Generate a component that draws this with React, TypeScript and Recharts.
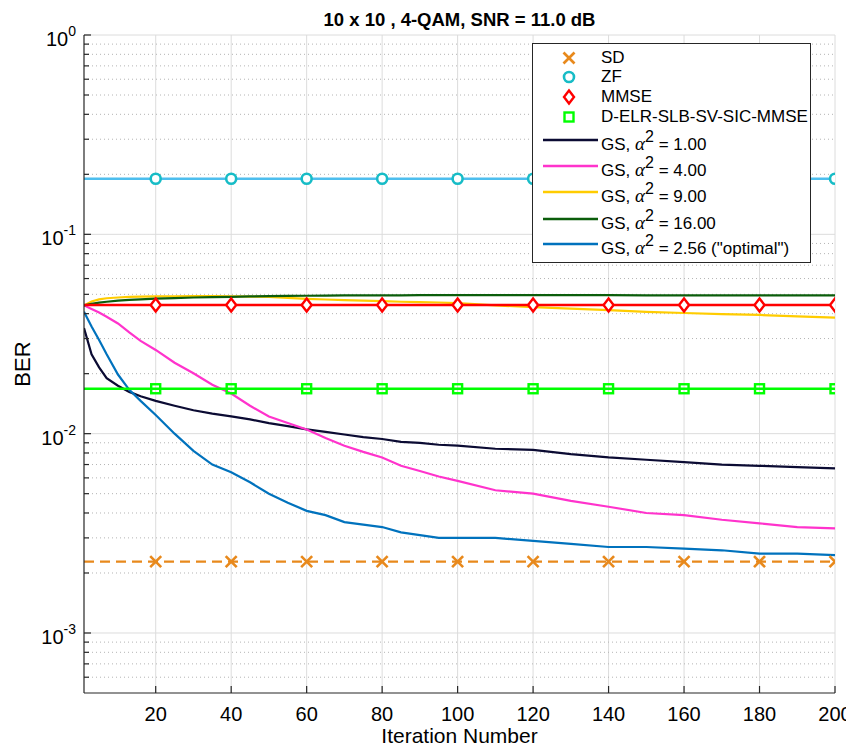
import React from 'react';
import { LineChart, Line, XAxis, YAxis, CartesianGrid, Legend } from 'recharts';

// Iteration grid shared by every series
const iterations = [
  1, 3, 5, 7, 10, 13, 16, 20, 25, 30, 35, 40, 45, 50, 55, 60, 65, 70, 75, 80,
  85, 90, 95, 100, 110, 120, 130, 140, 150, 160, 170, 180, 190, 200,
];

// Gibbs-sampling detector BER per iteration, one array per alpha^2
const gsAlpha1 = [
  0.0339, 0.025, 0.0215, 0.019, 0.0174, 0.0162, 0.0154, 0.0146, 0.0138, 0.0131,
  0.0126, 0.0122, 0.0118, 0.0113, 0.0109, 0.0105, 0.0102, 0.0099, 0.0096, 0.0094,
  0.0091, 0.009, 0.0088, 0.0087, 0.0084, 0.0083, 0.0079, 0.0076, 0.0074, 0.0072,
  0.007, 0.0069, 0.0068, 0.0067,
];
const gsAlpha4 = [
  0.044, 0.0422, 0.0405, 0.0386, 0.0357, 0.0322, 0.0292, 0.0263, 0.0227, 0.0201,
  0.0176, 0.0159, 0.0138, 0.0122, 0.0113, 0.0105, 0.0095, 0.0087, 0.0081, 0.0076,
  0.0069, 0.0065, 0.0061, 0.0058, 0.0052, 0.005, 0.0046, 0.0043, 0.004, 0.0039,
  0.0037, 0.00355, 0.0034, 0.00335,
];
const gsAlpha9 = [
  0.044, 0.046, 0.0472, 0.0478, 0.0482, 0.0485, 0.0487, 0.0488, 0.0489, 0.049,
  0.049, 0.0489, 0.0487, 0.0485, 0.048, 0.0475, 0.0471, 0.0468, 0.0465, 0.0462,
  0.0459, 0.0457, 0.0455, 0.0452, 0.044, 0.0431, 0.0424, 0.0417, 0.0408, 0.0403,
  0.0398, 0.0394, 0.0388, 0.0382,
];
const gsAlpha16 = [
  0.044, 0.0448, 0.0454, 0.0459, 0.0465, 0.0469, 0.0472, 0.0476, 0.0479, 0.0482,
  0.0484, 0.0486, 0.0488, 0.049, 0.0491, 0.0492, 0.0493, 0.0494, 0.0494, 0.0494,
  0.0494, 0.0495, 0.0495, 0.0495, 0.0495, 0.0495, 0.0495, 0.0495, 0.0494, 0.0494,
  0.0494, 0.0494, 0.0494, 0.0494,
];
const gsOptimal = [
  0.0409, 0.0345, 0.0295, 0.025, 0.0198, 0.0166, 0.0146, 0.0124, 0.01, 0.0082,
  0.007, 0.0064, 0.0057, 0.005, 0.0045, 0.0041, 0.0039, 0.0036, 0.0035, 0.0034,
  0.0032, 0.0031, 0.003, 0.003, 0.003, 0.0029, 0.0028, 0.0027, 0.0027, 0.00265,
  0.0026, 0.0025, 0.0025, 0.00246,
];

// Reference detectors (flat over iterations)
const sdBer = 0.00228;
const zfBer = 0.19;
const mmseBer = 0.0442;
const delrBer = 0.0168;

const xTicks = [20, 40, 60, 80, 100, 120, 140, 160, 180, 200];
const yMajorTicks = [1e-3, 1e-2, 1e-1, 1];
const yMinorTicks = [
  6e-4, 7e-4, 8e-4, 9e-4,
  2e-3, 3e-3, 4e-3, 5e-3, 6e-3, 7e-3, 8e-3, 9e-3,
  2e-2, 3e-2, 4e-2, 5e-2, 6e-2, 7e-2, 8e-2, 9e-2,
  0.2, 0.3, 0.4, 0.5, 0.6, 0.7, 0.8, 0.9,
];
const yAllTicks = [5e-4, ...yMinorTicks, ...yMajorTicks].sort((a, b) => a - b);

const rows = iterations.map((iter, i) => ({
  iter,
  sd: sdBer,
  zf: zfBer,
  mmse: mmseBer,
  delr: delrBer,
  gs1: gsAlpha1[i],
  gs4: gsAlpha4[i],
  gs9: gsAlpha9[i],
  gs16: gsAlpha16[i],
  gsOpt: gsOptimal[i],
}));

const FONT = "'Liberation Sans', Arial, Helvetica, sans-serif";
const AXIS = '#262626';

const W = 846;
const H = 740;
const M = { top: 27, right: 19, left: 0, bottom: 0 };
const Y_AXIS_W = 76;
const X_AXIS_H = 55;
const plotLeft = M.left + Y_AXIS_W;
const plotRight = W - M.right;
const plotTop = M.top;
const plotBottom = H - M.bottom - X_AXIS_H;
const plotCx = (plotLeft + plotRight) / 2;
const plotCy = (plotTop + plotBottom) / 2;

const COLORS = {
  sd: '#E8891C',
  zfLine: '#4DBEEE',
  zfMark: '#17BCC6',
  mmse: '#FF0000',
  delr: '#00FF00',
  gs1: '#0B0B33',
  gs4: '#FF33CC',
  gs9: '#FFCC00',
  gs16: '#0B5D0B',
  gsOpt: '#0072BD',
};

type Shape = 'x' | 'o' | 'd' | 's';

function Marker({ shape, cx, cy, color }: { shape: Shape; cx: number; cy: number; color: string }) {
  if (shape === 'x') {
    const h = 5.5;
    return (
      <g stroke={color} strokeWidth={2.6} strokeLinecap="butt">
        <line x1={cx - h} y1={cy - h} x2={cx + h} y2={cy + h} />
        <line x1={cx - h} y1={cy + h} x2={cx + h} y2={cy - h} />
      </g>
    );
  }
  if (shape === 'o') {
    return <circle cx={cx} cy={cy} r={5} fill="#fff" stroke={color} strokeWidth={2.6} />;
  }
  if (shape === 'd') {
    const pts = `${cx},${cy - 6.5} ${cx + 5},${cy} ${cx},${cy + 6.5} ${cx - 5},${cy}`;
    return <polygon points={pts} fill="#fff" stroke={color} strokeWidth={2.4} />;
  }
  return <rect x={cx - 4.5} y={cy - 4.5} width={9} height={9} fill="none" stroke={color} strokeWidth={2.4} />;
}

const everyTwenty = (shape: Shape, color: string) => (props: any) => {
  const { cx, cy, payload, index } = props;
  if (payload.iter % 20 !== 0) return <g key={`m-${index}`} />;
  return (
    <g key={`m-${index}`}>
      <Marker shape={shape} cx={cx} cy={cy} color={color} />
    </g>
  );
};

const YTick = (props: any) => {
  const { x, y, payload } = props;
  const v = payload.value as number;
  const isMajor = yMajorTicks.includes(v);
  if (v === 5e-4) return <g />;
  const exp = Math.round(Math.log10(v));
  return (
    <g>
      <line x1={x} x2={x + (isMajor ? 7 : 5)} y1={y} y2={y} stroke={AXIS} strokeWidth={1.2} />
      {isMajor && (
        <text x={x - 8} y={y + 11} textAnchor="end" fontSize={20} fill="#000" fontFamily={FONT}>
          <tspan>10</tspan>
          <tspan dy={-10} fontSize={14}>{exp}</tspan>
        </text>
      )}
    </g>
  );
};

const XTick = (props: any) => {
  const { x, y, payload } = props;
  return (
    <g>
      <line x1={x} x2={x} y1={y} y2={y - 7} stroke={AXIS} strokeWidth={1.2} />
      <text x={x} y={y + 28} textAnchor="middle" fontSize={20} fill="#000" fontFamily={FONT}>
        {payload.value}
      </text>
    </g>
  );
};

type LegendEntry = {
  key: string;
  label: React.ReactNode;
  color: string;
  shape?: Shape;
  center: number;
};

const alphaSq = (
  <>
    <span style={{ fontFamily: "'Liberation Serif', 'DejaVu Serif', serif", fontStyle: 'italic', fontSize: 19 }}>α</span>
    <span style={{ fontSize: 16, position: 'relative', top: -8 }}>2</span>
  </>
);

const legendEntries: LegendEntry[] = [
  { key: 'sd', label: 'SD', color: COLORS.sd, shape: 'x', center: 14 },
  { key: 'zf', label: 'ZF', color: COLORS.zfMark, shape: 'o', center: 33 },
  { key: 'mmse', label: 'MMSE', color: COLORS.mmse, shape: 'd', center: 53 },
  { key: 'delr', label: 'D-ELR-SLB-SV-SIC-MMSE', color: COLORS.delr, shape: 's', center: 73 },
  { key: 'gs1', label: <>GS, {alphaSq} = 1.00</>, color: COLORS.gs1, center: 100 },
  { key: 'gs4', label: <>GS, {alphaSq} = 4.00</>, color: COLORS.gs4, center: 126 },
  { key: 'gs9', label: <>GS, {alphaSq} = 9.00</>, color: COLORS.gs9, center: 152 },
  { key: 'gs16', label: <>GS, {alphaSq} = 16.00</>, color: COLORS.gs16, center: 179 },
  { key: 'gsOpt', label: <>GS, {alphaSq} = 2.56 ("optimal")</>, color: COLORS.gsOpt, center: 204 },
];

const renderLegend = () => (
  <div
    style={{
      width: 279,
      height: 220,
      boxSizing: 'border-box',
      border: `1px solid ${AXIS}`,
      background: '#fff',
      position: 'relative',
      fontFamily: FONT,
      fontSize: 17,
      color: '#000',
    }}
  >
    {legendEntries.map((e) => (
      <div key={e.key} style={{ position: 'absolute', left: 0, top: e.center, width: '100%', height: 0 }}>
        <svg width={68} height={24} style={{ position: 'absolute', left: 0, top: -12, overflow: 'visible' }}>
          {e.shape ? (
            <Marker shape={e.shape} cx={36} cy={12} color={e.color} />
          ) : (
            <line x1={10} x2={65} y1={8} y2={8} stroke={e.color} strokeWidth={2.4} />
          )}
        </svg>
        <span
          style={{
            position: 'absolute',
            left: 68,
            top: 0,
            transform: 'translateY(-50%)',
            whiteSpace: 'nowrap',
            lineHeight: '20px',
          }}
        >
          {e.label}
        </span>
      </div>
    ))}
  </div>
);

export default function App() {
  return (
    <div style={{ width: W, height: H, overflow: 'hidden' }}>
      <LineChart width={W} height={H} data={rows} margin={M} style={{ fontFamily: FONT }}>
        <CartesianGrid
          stroke="#DCDCDC"
          strokeWidth={1}
          horizontalValues={yMajorTicks}
          verticalValues={xTicks}
        />
        <CartesianGrid
          stroke="#B4B4B4"
          strokeWidth={1}
          strokeDasharray="1 3"
          vertical={false}
          horizontalValues={yMinorTicks}
        />
        <XAxis
          dataKey="iter"
          type="number"
          domain={[1, 200]}
          ticks={xTicks}
          interval={0}
          height={X_AXIS_H}
          tickSize={0}
          tickMargin={0}
          tick={<XTick />}
          stroke={AXIS}
          strokeWidth={1.2}
          allowDataOverflow
        />
        <YAxis
          type="number"
          scale="log"
          domain={[5e-4, 1]}
          ticks={yAllTicks}
          interval={0}
          width={Y_AXIS_W}
          tickSize={0}
          tickMargin={0}
          tick={<YTick />}
          stroke={AXIS}
          strokeWidth={1.2}
          allowDataOverflow
        />
        <Legend
          layout="vertical"
          align="center"
          verticalAlign="middle"
          content={renderLegend}
          wrapperStyle={{ left: 524, top: 35, width: 279, height: 220 }}
        />

        <Line dataKey="gs1" stroke={COLORS.gs1} strokeWidth={2.2} dot={false} isAnimationActive={false} />
        <Line dataKey="gs4" stroke={COLORS.gs4} strokeWidth={2.2} dot={false} isAnimationActive={false} />
        <Line dataKey="gs9" stroke={COLORS.gs9} strokeWidth={2.2} dot={false} isAnimationActive={false} />
        <Line dataKey="gs16" stroke={COLORS.gs16} strokeWidth={2.2} dot={false} isAnimationActive={false} />
        <Line dataKey="gsOpt" stroke={COLORS.gsOpt} strokeWidth={2.2} dot={false} isAnimationActive={false} />

        <Line
          dataKey="sd"
          stroke={COLORS.sd}
          strokeWidth={2.2}
          strokeDasharray="10 6"
          dot={everyTwenty('x', COLORS.sd)}
          isAnimationActive={false}
        />
        <Line
          dataKey="zf"
          stroke={COLORS.zfLine}
          strokeWidth={2.4}
          dot={everyTwenty('o', COLORS.zfMark)}
          isAnimationActive={false}
        />
        <Line
          dataKey="mmse"
          stroke={COLORS.mmse}
          strokeWidth={2.4}
          dot={everyTwenty('d', COLORS.mmse)}
          isAnimationActive={false}
        />
        <Line
          dataKey="delr"
          stroke={COLORS.delr}
          strokeWidth={2.4}
          dot={everyTwenty('s', COLORS.delr)}
          isAnimationActive={false}
        />

        <text
          x={plotCx}
          y={18}
          textAnchor="middle"
          fontSize={18.5}
          fontWeight="bold"
          fill="#000"
          fontFamily={FONT}
        >
          10 x 10 , 4-QAM, SNR = 11.0 dB
        </text>
        <text
          x={plotCx}
          y={H - 5}
          textAnchor="middle"
          fontSize={21}
          fill="#000"
          fontFamily={FONT}
        >
          Iteration Number
        </text>
        <text
          x={22}
          y={plotCy}
          textAnchor="middle"
          fontSize={22}
          fill="#000"
          fontFamily={FONT}
          transform={`rotate(-90, 22, ${plotCy})`}
        >
          BER
        </text>
      </LineChart>
    </div>
  );
}
